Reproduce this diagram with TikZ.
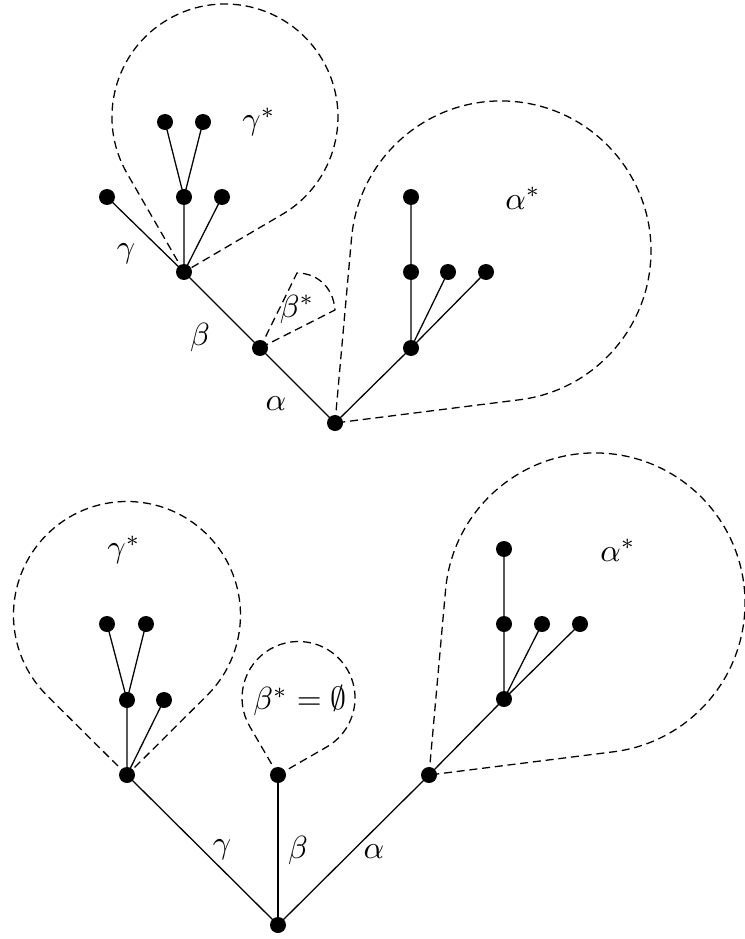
\documentclass[tikz,border=0pt]{standalone}
\begin{document}
\begin{tikzpicture}[x=0.3125pt,y=-0.3125pt,
  dot/.style={circle,fill=black,draw=none,inner sep=0pt,minimum size=5pt},
  edge/.style={line width=0.4pt},
  loop/.style={line width=0.4pt,dash pattern=on 2.5pt off 1.5pt},
  lab/.style={inner sep=0pt}]
\useasboundingbox (0,0) rectangle (745,939);

% ---------- top tree: coordinates ----------
\coordinate (R1) at (335,423);
\coordinate (B1) at (260,348);
\coordinate (G1) at (184,272);
\coordinate (t1) at (107,197);
\coordinate (t2) at (184,197);
\coordinate (t3) at (222,197);
\coordinate (t4) at (165,122);
\coordinate (t5) at (203,122);
\coordinate (A1) at (411,348);
\coordinate (u2) at (411,272);
\coordinate (u3) at (448,272);
\coordinate (u4) at (486,272);
\coordinate (u5) at (411,197);

% dashed regions (top)
\draw[loop] (G1) -- ++(-56.9,-98.5) arc[start angle=150, end angle=419.7, radius=113] -- (G1);
\draw[loop] (B1) -- (297,273) .. controls (315,273) and (333,285) .. (335,310) -- (B1);
\draw[loop] (R1) -- ++(16.6,-185.4) arc[start angle=185.1, end angle=442.8, radius=150] -- (R1);

% edges (top)
\draw[edge] (R1) -- (B1) -- (G1) -- (t1);
\draw[edge] (G1) -- (t2) -- (t4);
\draw[edge] (t2) -- (t5);
\draw[edge] (G1) -- (t3);
\draw[edge] (R1) -- (A1) -- (u2) -- (u5);
\draw[edge] (A1) -- (u3);
\draw[edge] (A1) -- (u4);

\foreach \n in {R1,B1,G1,t1,t2,t3,t4,t5,A1,u2,u3,u4,u5}
  \node[dot] (d\n) at (\n) {};

% labels (top)
\node[lab] (lg1) at (126,254) {$\gamma$};
\node[lab] (lb1) at (200,337) {$\beta$};
\node[lab] (la1) at (276,404) {$\alpha$};
\node[lab] (lbs1) at (297,309) {$\beta^*$};
\node[lab] (lgs1) at (259,122) {$\gamma^*$};
\node[lab] (las1) at (523,198) {$\alpha^*$};

% ---------- bottom tree ----------
\coordinate (Rb) at (278,925);
\coordinate (Gb) at (127,775);
\coordinate (Bb) at (278,775);
\coordinate (Ab) at (429,775);
\coordinate (g1) at (127,700);
\coordinate (g2) at (164,700);
\coordinate (g3) at (107,624);
\coordinate (g4) at (146,624);
\coordinate (v1) at (504,699);
\coordinate (v2) at (504,624);
\coordinate (v3) at (542,624);
\coordinate (v4) at (580,624);
\coordinate (v5) at (504,549);

% dashed regions (bottom)
\draw[loop] (Gb) -- ++(-80,-79.5) arc[start angle=134.8, end angle=405.2, radius=113.5] -- (Gb);
\draw[loop] (Bb) -- ++(-28.3,-48.6) arc[start angle=149.8, end angle=420, radius=56.5] -- (Bb);
\draw[loop] (Ab) -- ++(16.6,-185.4) arc[start angle=185.1, end angle=442.8, radius=150] -- (Ab);

% edges (bottom)
\draw[edge] (Rb) -- (Gb) -- (g1) -- (g3);
\draw[edge] (g1) -- (g4);
\draw[edge] (Gb) -- (g2);
\draw[edge] (Rb) -- (Bb);
\draw[edge] (Rb) -- (Ab) -- (v1) -- (v2) -- (v5);
\draw[edge] (v1) -- (v3);
\draw[edge] (v1) -- (v4);

\foreach \n in {Rb,Gb,Bb,Ab,g1,g2,g3,g4,v1,v2,v3,v4,v5}
  \node[dot] (d\n) at (\n) {};

% labels (bottom)
\node[lab] (lg2) at (222,850) {$\gamma$};
\node[lab] (lb2) at (298,850) {$\beta$};
\node[lab] (la2) at (374,852) {$\alpha$};
\node[lab] (lbs2) at (300,701) {$\beta^* = \emptyset$};
\node[lab] (lgs2) at (124,550) {$\gamma^*$};
\node[lab] (las2) at (618,550) {$\alpha^*$};
\end{tikzpicture}
\end{document}
